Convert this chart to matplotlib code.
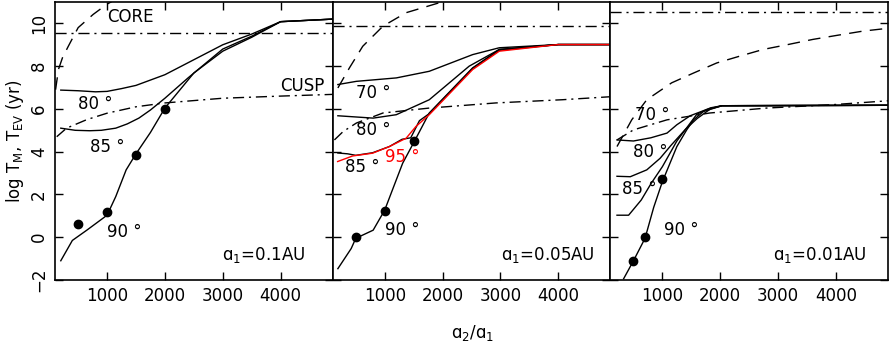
import matplotlib
matplotlib.use("Agg")
import matplotlib.pyplot as plt

plt.rcParams['font.family'] = ['DejaVu Sans']
plt.rcParams['mathtext.fontset'] = 'dejavusans'

xlim = (100, 4900)
ylim = (-2, 11)
xticks = [1000, 2000, 3000, 4000]
yticks = [-2, 0, 2, 4, 6, 8, 10]

# panel 1: a1 = 0.1 AU
p1_core_x = [110, 160, 230, 330, 500, 760, 1000, 1100]
p1_core_y = [6.9, 7.85, 8.4, 8.93, 9.8, 10.42, 10.9, 11.05]
p1_evap = 9.56
p1_cusp_x = [130, 300, 650, 1000, 1500, 2000, 3000, 4000, 4900]
p1_cusp_y = [4.7, 5.1, 5.5, 5.8, 6.1, 6.28, 6.5, 6.6, 6.68]
p1_80_x = [200, 500, 800, 1000, 1250, 1500, 2000, 2500, 3000, 3500, 4000, 4900]
p1_80_y = [6.88, 6.85, 6.8, 6.82, 6.95, 7.1, 7.6, 8.3, 9.0, 9.5, 10.08, 10.2]
p1_85_x = [200, 450, 700, 900, 1150, 1350, 1550, 1750, 2000, 2400, 3000, 3500, 4000, 4900]
p1_85_y = [5.1, 5.0, 4.98, 5.0, 5.1, 5.3, 5.57, 5.95, 6.5, 7.45, 8.8, 9.4, 10.08, 10.2]
p1_90_x = [200, 400, 650, 1000, 1150, 1330, 1500, 1750, 2000, 2500, 3000, 3500, 4000, 4900]
p1_90_y = [-1.1, -0.15, 0.33, 1.03, 1.9, 3.15, 3.9, 4.9, 6.04, 7.68, 8.7, 9.35, 10.08, 10.2]
p1_dot_x = [500, 1000, 1500, 2000]
p1_dot_y = [0.6, 1.2, 3.85, 6.0]

# panel 2: a1 = 0.05 AU
p2_core_x = [190, 390, 620, 970, 1370, 1950, 2050]
p2_core_y = [6.98, 7.92, 8.93, 9.87, 10.5, 10.97, 11.05]
p2_evap = 9.87
p2_cusp_x = [130, 280, 510, 970, 1770, 2920, 4070, 4900]
p2_cusp_y = [4.55, 4.94, 5.34, 5.81, 6.04, 6.28, 6.43, 6.57]
p2_70_x = [190, 510, 1200, 1770, 2520, 2980, 4000, 4900]
p2_70_y = [7.14, 7.29, 7.45, 7.76, 8.54, 8.86, 9.01, 9.01]
p2_80_x = [190, 800, 1200, 1770, 2460, 2980, 4000, 4900]
p2_80_y = [5.68, 5.57, 5.73, 6.43, 8.0, 8.78, 9.01, 9.01]
p2_85_x = [190, 360, 500, 790, 1080, 1300, 1450, 1600, 1770, 2520, 2980, 4000, 4900]
p2_85_y = [3.94, 3.9, 3.83, 3.95, 4.24, 4.58, 4.65, 5.45, 5.78, 7.9, 8.74, 9.01, 9.01]
p2_90_x = [190, 420, 500, 800, 1000, 1110, 1310, 1510, 1770, 2520, 2980, 4000, 4900]
p2_90_y = [-1.47, -0.53, -0.05, 0.33, 1.27, 2.05, 3.46, 4.47, 5.81, 7.92, 8.78, 9.01, 9.01]
p2_95_x = [186, 445, 790, 1080, 1370, 1540, 1770, 2520, 2980, 4000, 4900]
p2_95_y = [3.54, 3.8, 3.93, 4.24, 4.63, 5.18, 5.73, 7.84, 8.7, 9.01, 9.01]
p2_dot_x = [500, 1000, 1500]
p2_dot_y = [0.0, 1.25, 4.5]

# panel 3: a1 = 0.01 AU
p3_core_x = [215, 470, 730, 1160, 1540, 1940, 2340, 2740, 3170, 3600, 4040, 4470, 4900]
p3_core_y = [4.24, 5.49, 6.43, 7.22, 7.68, 8.15, 8.47, 8.78, 9.01, 9.25, 9.45, 9.64, 9.77]
p3_evap = 10.55
p3_cusp_x = [215, 500, 1080, 1820, 2800, 3950, 4900]
p3_cusp_y = [4.55, 5.02, 5.49, 5.81, 6.04, 6.2, 6.38]
p3_80_x = [215, 500, 800, 1080, 1250, 1480, 1770, 2030, 4900]
p3_80_y = [4.55, 4.5, 4.65, 4.87, 5.26, 5.68, 5.98, 6.15, 6.17]
p3_85_x = [215, 445, 730, 960, 1150, 1400, 1600, 1830, 2030, 4900]
p3_85_y = [2.85, 2.83, 3.15, 3.69, 4.3, 5.05, 5.55, 6.0, 6.15, 6.17]
p3_88_x = [215, 416, 634, 806, 1000, 1250, 1595, 1830, 2030, 4900]
p3_88_y = [1.03, 1.03, 1.74, 2.52, 3.3, 4.5, 5.75, 6.05, 6.15, 6.17]
p3_90_x = [330, 500, 700, 850, 1000, 1250, 1420, 1540, 1710, 2030, 4900]
p3_90_y = [-1.94, -1.1, -0.05, 1.4, 2.6, 4.24, 5.02, 5.49, 5.88, 6.15, 6.17]
p3_dot_x = [500, 700, 1000]
p3_dot_y = [-1.1, 0.0, 2.7]

dash = (0, (9, 6))
dashdot = (0, (8, 3.5, 1.5, 3.5))
fs = 12

fig = plt.figure(figsize=(8.91, 3.46), dpi=100)
left, right, bottom, top = 55 / 891, 888 / 891, 1 - 280 / 346, 1 - 2 / 346
w = (right - left) / 3
axes = [fig.add_axes([left + i * w, bottom, w, top - bottom]) for i in range(3)]


def solid(ax, x, y, c='black'):
    ax.plot(x, y, color=c, lw=1.0, solid_joinstyle='round')


def deg(ax, x, y, s, c='black'):
    ax.text(x, y, s + ' °', fontsize=fs, ha='left', va='center', color=c)


ax = axes[0]
ax.plot(p1_core_x, p1_core_y, color='black', lw=1.0, linestyle=dash)
ax.axhline(p1_evap, color='black', lw=1.0, linestyle=dashdot)
ax.plot(p1_cusp_x, p1_cusp_y, color='black', lw=1.0, linestyle=dashdot)
solid(ax, p1_80_x, p1_80_y)
solid(ax, p1_85_x, p1_85_y)
solid(ax, p1_90_x, p1_90_y)
ax.plot(p1_dot_x, p1_dot_y, 'o', color='black', ms=6)
deg(ax, 500, 6.25, '80')
deg(ax, 700, 4.24, '85')
deg(ax, 1000, 0.25, '90')
ax.text(1000, 10.3, 'CORE', fontsize=fs, ha='left', va='center')
ax.text(4000, 7.06, 'CUSP', fontsize=fs, ha='left', va='center')
ax.text(2990, -0.85, 'ɑ$_1$=0.1AU', fontsize=fs, ha='left', va='center')

ax = axes[1]
ax.plot(p2_core_x, p2_core_y, color='black', lw=1.0, linestyle=dash)
ax.axhline(p2_evap, color='black', lw=1.0, linestyle=dashdot)
ax.plot(p2_cusp_x, p2_cusp_y, color='black', lw=1.0, linestyle=dashdot)
solid(ax, p2_70_x, p2_70_y)
solid(ax, p2_80_x, p2_80_y)
solid(ax, p2_85_x, p2_85_y)
solid(ax, p2_90_x, p2_90_y)
solid(ax, p2_95_x, p2_95_y, 'red')
ax.plot(p2_dot_x, p2_dot_y, 'o', color='black', ms=6)
deg(ax, 510, 6.75, '70')
deg(ax, 510, 5.02, '80')
deg(ax, 305, 3.3, '85')
deg(ax, 1000, 3.77, '95', 'red')
deg(ax, 1000, 0.33, '90')
ax.text(3010, -0.85, 'ɑ$_1$=0.05AU', fontsize=fs, ha='left', va='center')

ax = axes[2]
ax.plot(p3_core_x, p3_core_y, color='black', lw=1.0, linestyle=dash)
ax.axhline(p3_evap, color='black', lw=1.0, linestyle=dashdot)
ax.plot(p3_cusp_x, p3_cusp_y, color='black', lw=1.0, linestyle=dashdot)
solid(ax, p3_80_x, p3_80_y)
solid(ax, p3_85_x, p3_85_y)
solid(ax, p3_88_x, p3_88_y)
solid(ax, p3_90_x, p3_90_y)
ax.plot(p3_dot_x, p3_dot_y, 'o', color='black', ms=6)
deg(ax, 520, 5.73, '70')
deg(ax, 495, 4.0, '80')
deg(ax, 310, 2.24, '85')
deg(ax, 1020, 0.36, '90')
ax.text(2910, -0.85, 'ɑ$_1$=0.01AU', fontsize=fs, ha='left', va='center')

for i, ax in enumerate(axes):
    ax.set_xlim(*xlim)
    ax.set_ylim(*ylim)
    ax.set_xticks(xticks)
    ax.set_yticks(yticks)
    ax.tick_params(direction='in', top=True, right=True, length=6, width=1,
                   labelsize=fs, pad=5)
    for s in ax.spines.values():
        s.set_linewidth(1.2)
    if i == 0:
        ax.set_yticklabels(['−2', '0', '2', '4', '6', '8', '10'],
                           rotation=90, va='center')
        ax.set_ylabel('log T$_{\\rm M}$, T$_{\\rm EV}$ (yr)', fontsize=fs, labelpad=3)
    else:
        ax.set_yticklabels([])

fig.text(473 / 891, 1 - 333 / 346, 'ɑ$_2$/ɑ$_1$', fontsize=fs, ha='center', va='center')

fig.savefig('out.png', dpi=100)
